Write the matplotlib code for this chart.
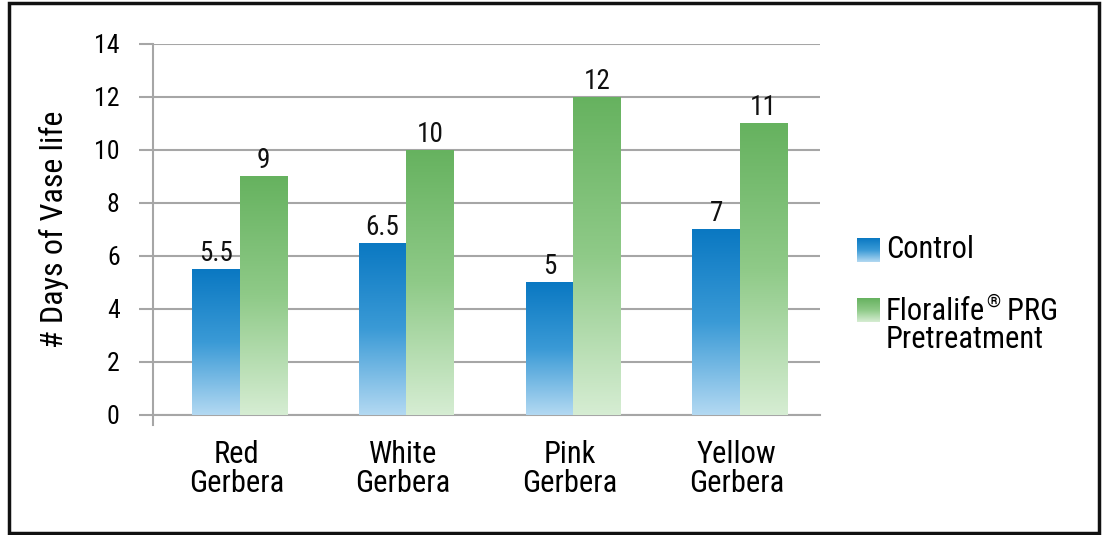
import matplotlib
matplotlib.use("Agg")
import matplotlib.pyplot as plt
import numpy as np
from matplotlib.colors import LinearSegmentedColormap
from matplotlib.patches import Rectangle
from matplotlib.lines import Line2D
from matplotlib.transforms import offset_copy
import logging
logging.getLogger('matplotlib.font_manager').setLevel(logging.ERROR)

categories = ["Red\nGerbera", "White\nGerbera", "Pink\nGerbera", "Yellow\nGerbera"]
control = [5.5, 6.5, 5, 7]
floralife = [9, 10, 12, 11]
value_labels_control = ["5.5", "6.5", "5", "7"]
value_labels_floralife = ["9", "10", "12", "11"]
series_control = "Control"
series_floralife_parts = ["Floralife", "\u00ae", " PRG", "Pretreatment"]
yticks = [0, 2, 4, 6, 8, 10, 12, 14]

FONT = ["Roboto Condensed", "Archivo Narrow", "IBM Plex Sans Condensed", "DejaVu Sans"]
plt.rcParams['font.family'] = FONT

blue_cmap = LinearSegmentedColormap.from_list("b", ["#b3d9f2", "#3a9ad6", "#0a78c2"])
green_cmap = LinearSegmentedColormap.from_list("g", ["#d6edd3", "#8fca88", "#66b25f"])

fig = plt.figure(figsize=(11.07, 5.35), dpi=100)
ax = fig.add_axes([0.1382, 0.2243, 0.6025, 0.6935])

x = np.arange(len(categories))
w = 0.285
off = 0.02
grad = np.linspace(0, 1, 256).reshape(-1, 1)

ax.set_xlim(-0.5, len(categories) - 0.5)
ax.set_ylim(0, 14)

def grad_bar(x0, h, cmap):
    im = ax.imshow(grad, cmap=cmap, aspect='auto', origin='lower',
                   extent=[x0, x0 + w, 0, h], zorder=3, interpolation='bilinear')
    rect = Rectangle((x0, 0), w, h, transform=ax.transData, facecolor='none', edgecolor='none')
    ax.add_patch(rect)
    im.set_clip_path(rect)

for i in range(len(categories)):
    grad_bar(x[i] + off - w, control[i], blue_cmap)
    grad_bar(x[i] + off, floralife[i], green_cmap)
    ax.text(x[i] + off - w / 2, control[i] + 0.08, value_labels_control[i], ha='center', va='bottom',
            fontsize=19.5, color='#111111', zorder=4)
    ax.text(x[i] + off + w / 2, floralife[i] + 0.08, value_labels_floralife[i], ha='center', va='bottom',
            fontsize=19.5, color='#111111', zorder=4)

ax.set_xlim(-0.5, len(categories) - 0.5)
ax.set_ylim(0, 14)
ax.set_yticks(yticks)
ax.set_yticklabels([str(t) for t in yticks], fontsize=18.5)
ax.yaxis.grid(True, color='#a6a6a6', linewidth=1.5, zorder=0)
ax.set_axisbelow(True)
ax.tick_params(axis='y', length=10, width=1.5, color='#a6a6a6', pad=14)
ax.set_xticks(x)
ax.set_xticklabels(categories, fontsize=22, linespacing=1.0)
ax.tick_params(axis='x', length=0, pad=18)
for s in ['top', 'right', 'left']:
    ax.spines[s].set_visible(False)
ax.spines['bottom'].set_color('#a6a6a6')
ax.spines['bottom'].set_linewidth(1.5)
ax.add_line(Line2D([0, 0], [-0.028, 1.0], transform=ax.transAxes, color='#a6a6a6',
                   linewidth=1.5, clip_on=False))
ax.set_ylabel("# Days of Vase life", fontsize=23, labelpad=18)

# legend (manual)
def legend_square(xpx, ypx, cmap):
    lax = fig.add_axes([xpx / 1107, 1 - (ypx + 24) / 535, 23 / 1107, 24 / 535])
    lax.imshow(grad, cmap=cmap, aspect='auto', origin='lower', extent=[0, 1, 0, 1])
    lax.axis('off')

legend_square(857, 238, blue_cmap)
fig.text(886 / 1107, 1 - 249 / 535, series_control, fontsize=22, va='center', ha='left')
legend_square(857, 298, green_cmap)

renderer = fig.canvas.get_renderer()
t1 = fig.text(886 / 1107, 1 - 311 / 535, series_floralife_parts[0], fontsize=22,
              va='baseline', ha='left')
t1.set_va('center')
bb = t1.get_window_extent(renderer)
t2 = fig.text(bb.x1 / fig.bbox.width + 1 / 1107, 1 - 302 / 535, series_floralife_parts[1],
              fontsize=13, va='center', ha='left')
bb2 = t2.get_window_extent(renderer)
fig.text(bb2.x1 / fig.bbox.width, 1 - 311 / 535, series_floralife_parts[2], fontsize=22,
         va='center', ha='left')
fig.text(886 / 1107, 1 - 340 / 535, series_floralife_parts[3], fontsize=22, va='center', ha='left')

# frame
fig.patches.append(Rectangle((8.5 / 1107, 2 / 535), (1099 - 8.5) / 1107, (532 - 2) / 535,
                             transform=fig.transFigure, fill=False, edgecolor='#111111',
                             linewidth=2.5))

fig.savefig("out.png", dpi=100)
